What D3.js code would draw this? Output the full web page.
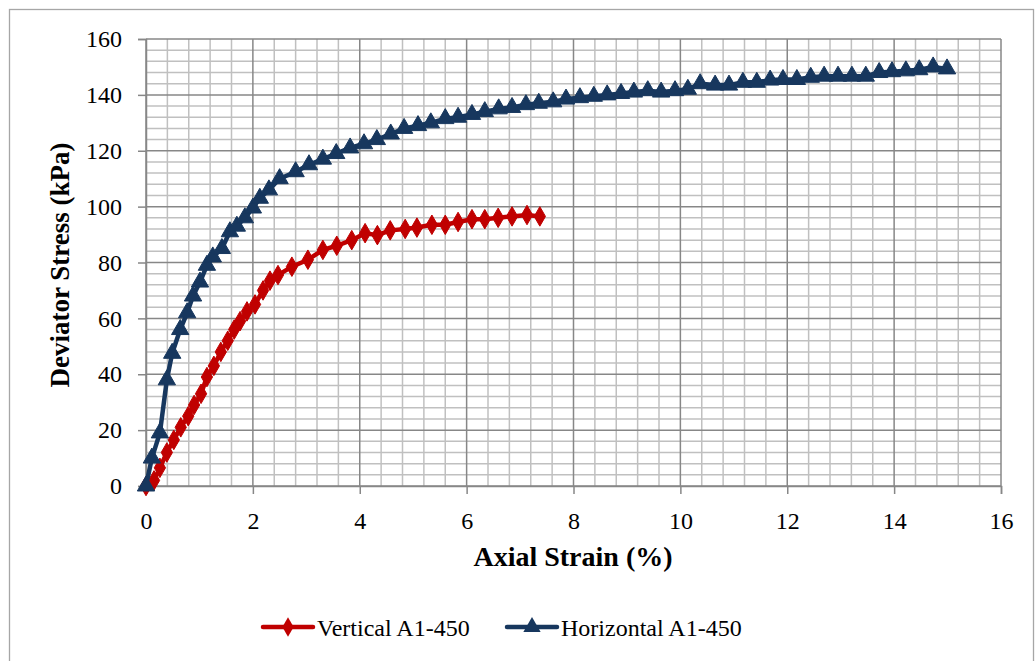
<!DOCTYPE html>
<html>
<head>
<meta charset="utf-8">
<script src="https://cdn.jsdelivr.net/npm/d3@7"></script>
<style>
  body { margin: 0; background: #fff; }
</style>
</head>
<body>
<div id="chart"></div>
<script>
// strain (%) and deviator stress (kPa)
var verticalStrain = [0, 0.15, 0.26, 0.39, 0.52, 0.65, 0.79, 0.9, 1.03, 1.14, 1.27, 1.4, 1.53, 1.65, 1.76, 1.89, 2.04, 2.19, 2.32, 2.47, 2.73, 3.03, 3.31, 3.57, 3.85, 4.1, 4.33, 4.57, 4.85, 5.07, 5.35, 5.6, 5.84, 6.1, 6.34, 6.59, 6.85, 7.13, 7.37];
var verticalStress = [0, 2, 6.5, 12, 16.5, 21, 25, 29, 33, 39, 43, 48, 52, 56, 59, 62.5, 65, 70, 73.5, 75.5, 78.5, 81, 84.5, 86, 88, 90.5, 89.8, 91.5, 92, 92.5, 93.5, 93.5, 94.5, 95.5, 95.5, 96, 96.5, 97, 96.5];

var horizontalStrain = [0, 0.11, 0.26, 0.39, 0.49, 0.64, 0.77, 0.88, 1.01, 1.14, 1.25, 1.42, 1.57, 1.7, 1.85, 2.0, 2.13, 2.3, 2.5, 2.8, 3.05, 3.31, 3.56, 3.82, 4.08, 4.32, 4.58, 4.83, 5.09, 5.33, 5.6, 5.84, 6.1, 6.34, 6.6, 6.85, 7.11, 7.35, 7.62, 7.86, 8.12, 8.38, 8.63, 8.89, 9.13, 9.39, 9.64, 9.9, 10.14, 10.37, 10.65, 10.91, 11.17, 11.43, 11.68, 11.92, 12.18, 12.44, 12.69, 12.95, 13.21, 13.47, 13.72, 13.96, 14.22, 14.47, 14.73, 14.99];
var horizontalStress = [0, 10, 19, 38, 47.5, 56, 62, 68, 73, 79, 82, 85, 91, 93, 96, 99.5, 103, 106, 110, 112.5, 115, 117, 119, 121, 122.5, 124, 126, 128, 129, 130, 131.5, 132, 133, 134, 135, 135.5, 136.5, 137, 137.5, 138.5, 139, 139.5, 140, 140.5, 141, 141.5, 141, 141.5, 142, 144, 143.5, 143.5, 144.5, 144.5, 145.3, 145.5, 145.5, 146.3, 146.7, 146.7, 146.7, 146.7, 148, 148.3, 148.6, 149, 150, 149.3];

var xTicks = [0, 2, 4, 6, 8, 10, 12, 14, 16];
var yTicks = [0, 20, 40, 60, 80, 100, 120, 140, 160];

var seriesNames = ["Vertical A1-450", "Horizontal A1-450"];
var seriesColors = ["#c00000", "#17375e"];

var font = "'Liberation Serif'";

var width = 1035,
    height = 661;

var x = d3.scaleLinear().domain([0, 16]).range([146, 1001]);
var y = d3.scaleLinear().domain([0, 160]).range([486, 39]);

var svg = d3.select("#chart").append("svg")
    .attr("width", width)
    .attr("height", height);

// outer frame
svg.append("rect")
    .attr("x", 9.5).attr("y", 9.5)
    .attr("width", 1024).attr("height", 700)
    .attr("fill", "none")
    .style("stroke", "#a6a6a6")
    .style("stroke-width", "1.3px");

// minor grid, every 0.4 % and 4 kPa
var gMinor = svg.append("g");
gMinor.selectAll("line.vx")
    .data(d3.range(0, 41).filter(function(i) { return i % 5 != 0; }).map(function(i) { return i * 0.4; }))
    .enter().append("line")
    .attr("x1", function(d) { return x(d); })
    .attr("x2", function(d) { return x(d); })
    .attr("y1", y(0)).attr("y2", y(160))
    .style("stroke", "#c0c0c0").style("stroke-width", "1.5px");
gMinor.selectAll("line.hy")
    .data(d3.range(0, 41).filter(function(i) { return i % 5 != 0; }).map(function(i) { return i * 4; }))
    .enter().append("line")
    .attr("y1", function(d) { return y(d); })
    .attr("y2", function(d) { return y(d); })
    .attr("x1", x(0)).attr("x2", x(16))
    .style("stroke", "#c0c0c0").style("stroke-width", "1.5px");

// major grid
var gMajor = svg.append("g");
gMajor.selectAll("line.vx")
    .data(xTicks)
    .enter().append("line")
    .attr("x1", function(d) { return x(d); })
    .attr("x2", function(d) { return x(d); })
    .attr("y1", y(0)).attr("y2", y(160))
    .style("stroke", "#878787").style("stroke-width", "1.5px");
gMajor.selectAll("line.hy")
    .data(yTicks)
    .enter().append("line")
    .attr("y1", function(d) { return y(d); })
    .attr("y2", function(d) { return y(d); })
    .attr("x1", x(0)).attr("x2", x(16))
    .style("stroke", "#878787").style("stroke-width", "1.5px");

// axes
var xAxis = svg.append("g")
    .attr("transform", "translate(0," + y(0) + ")")
    .call(d3.axisBottom(x).tickValues(xTicks).tickSize(8).tickPadding(18).tickFormat(d3.format("d")));
var yAxis = svg.append("g")
    .attr("transform", "translate(" + x(0) + ",0)")
    .call(d3.axisLeft(y).tickValues(yTicks).tickSize(8).tickPadding(16).tickFormat(d3.format("d")));

[xAxis, yAxis].forEach(function(a) {
  a.attr("font-family", null).attr("font-size", null);
  a.select(".domain").style("stroke", "#878787").style("stroke-width", "1.5px");
  a.selectAll(".tick line").style("stroke", "#878787").style("stroke-width", "1.5px");
  a.selectAll(".tick text")
    .style("font-family", font)
    .style("font-size", "24px")
    .style("fill", "#000");
});

svg.append("text")
    .attr("x", 573).attr("y", 566)
    .attr("text-anchor", "middle")
    .style("font-family", font)
    .style("font-size", "28px").style("font-weight", "bold")
    .style("fill", "#000")
    .text("Axial Strain (%)");

svg.append("text")
    .attr("transform", "translate(69,265) rotate(-90)")
    .attr("text-anchor", "middle")
    .style("font-family", font)
    .style("font-size", "27px").style("font-weight", "bold")
    .style("fill", "#000")
    .text("Deviator Stress (kPa)");

// series
var line = d3.line()
    .x(function(d) { return x(d[0]); })
    .y(function(d) { return y(d[1]); });

var vData = d3.zip(verticalStrain, verticalStress);
var hData = d3.zip(horizontalStrain, horizontalStress);

var diamond = d3.symbol().type(d3.symbolDiamond).size(110);
var triangle = d3.symbol().type(d3.symbolTriangle).size(130);

function drawSeries(data, color, sym) {
  svg.append("path")
      .datum(data)
      .attr("d", line)
      .style("fill", "none")
      .style("stroke", color)
      .style("stroke-width", "4.5px")
      .style("stroke-linejoin", "round");
  svg.append("g").selectAll("path")
      .data(data)
      .enter().append("path")
      .attr("transform", function(d) { return "translate(" + x(d[0]) + "," + y(d[1]) + ")"; })
      .attr("d", sym)
      .style("fill", color)
      .style("stroke", color)
      .style("stroke-width", "1px");
}

drawSeries(vData, seriesColors[0], diamond);
drawSeries(hData, seriesColors[1], triangle);

// legend
var legendX = [263, 507];
var legend = svg.append("g");
seriesNames.forEach(function(name, i) {
  var lx = legendX[i];
  legend.append("line")
      .attr("x1", lx).attr("x2", lx + 50)
      .attr("y1", 627).attr("y2", 627)
      .style("stroke", seriesColors[i])
      .style("stroke-width", "4.5px")
      .style("stroke-linecap", "round");
  legend.append("path")
      .attr("transform", "translate(" + (lx + 25) + ",627)")
      .attr("d", i == 0 ? diamond : triangle)
      .style("fill", seriesColors[i]);
  legend.append("text")
      .attr("x", lx + 54).attr("y", 636)
      .style("font-family", font)
      .style("font-size", "24px")
      .style("fill", "#000")
      .text(name);
});
</script>
</body>
</html>
